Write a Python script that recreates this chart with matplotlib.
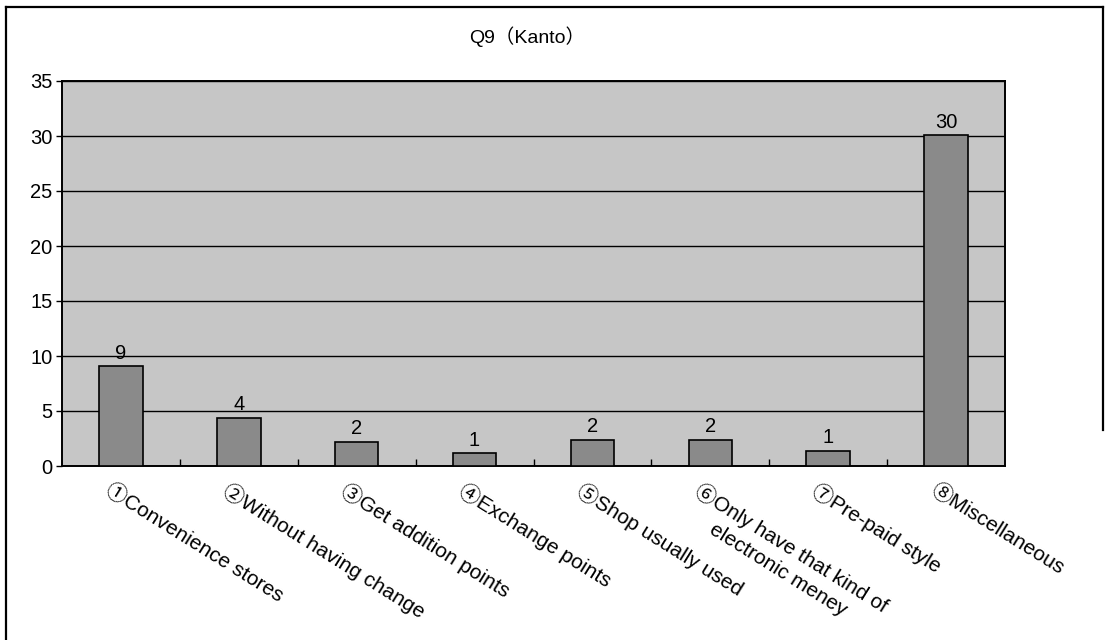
import matplotlib
matplotlib.use("Agg")
import matplotlib.pyplot as plt
from matplotlib.lines import Line2D

# Liberation Sans for latin text, CJK font for the circled digits and fullwidth brackets
plt.rcParams['font.family'] = ['Liberation Sans', 'Noto Sans CJK JP', 'DejaVu Sans']

# data (labels show rounded values)
categories = ['①Convenience stores', '②Without having change', '③Get addition points',
              '④Exchange points', '⑤Shop usually used',
              '⑥Only have that kind of\nelectronic meney', '⑦Pre-paid style', '⑧Miscellaneous']
values = [9.1, 4.4, 2.2, 1.2, 2.4, 2.4, 1.4, 30.1]
yticks = [0, 5, 10, 15, 20, 25, 30, 35]

W, H = 1105, 640
fig = plt.figure(figsize=(W/100, H/100), dpi=100)
ax = fig.add_axes([62/W, 1-466/H, (1005-62)/W, (466-81)/H])
ax.set_facecolor('#c6c6c6')

x = range(len(values))
ax.bar(x, values, width=0.37, color='#8a8a8a', edgecolor='black', linewidth=1.2, zorder=3)
for xi, v in zip(x, values):
    ax.text(xi, v + 0.3, '%d' % round(v), ha='center', va='bottom', fontsize=14.5, zorder=4)

ax.set_xlim(-0.5, len(values) - 0.5)
ax.set_ylim(0, 35)
ax.set_yticks(yticks)
ax.tick_params(axis='y', labelsize=14.5, length=4, width=1, pad=3)
ax.yaxis.grid(True, color='black', linewidth=1)
ax.set_axisbelow(True)

# category ticks sit between the bars
ax.set_xticks([i + 0.5 for i in range(len(values) - 1)])
ax.set_xticklabels([])
ax.tick_params(axis='x', direction='in', length=5, width=1)
for s in ax.spines.values():
    s.set_linewidth(1.4)

for xi, lab in zip(x, categories):
    ax.annotate(lab, xy=(xi - 0.07, 0), xytext=(0, -10), textcoords='offset points',
                rotation=-32, rotation_mode='anchor', ha='left', va='top',
                multialignment='center', linespacing=1.3, fontsize=15)

fig.text(527/W, 1-37/H, 'Q9（Kanto）', ha='center', va='center', fontsize=14)

# frame lines round the chart (bottom edge is cut off in the scan)
frame = dict(color='black', linewidth=1.6, transform=fig.transFigure)
fig.lines.append(Line2D([6/W, 1103/W], [1-7/H, 1-7/H], **frame))
fig.lines.append(Line2D([6/W, 6/W], [1-7/H, 0], **frame))
fig.lines.append(Line2D([1103/W, 1103/W], [1-7/H, 1-430/H], **frame))

fig.savefig('out.png', dpi=100)
